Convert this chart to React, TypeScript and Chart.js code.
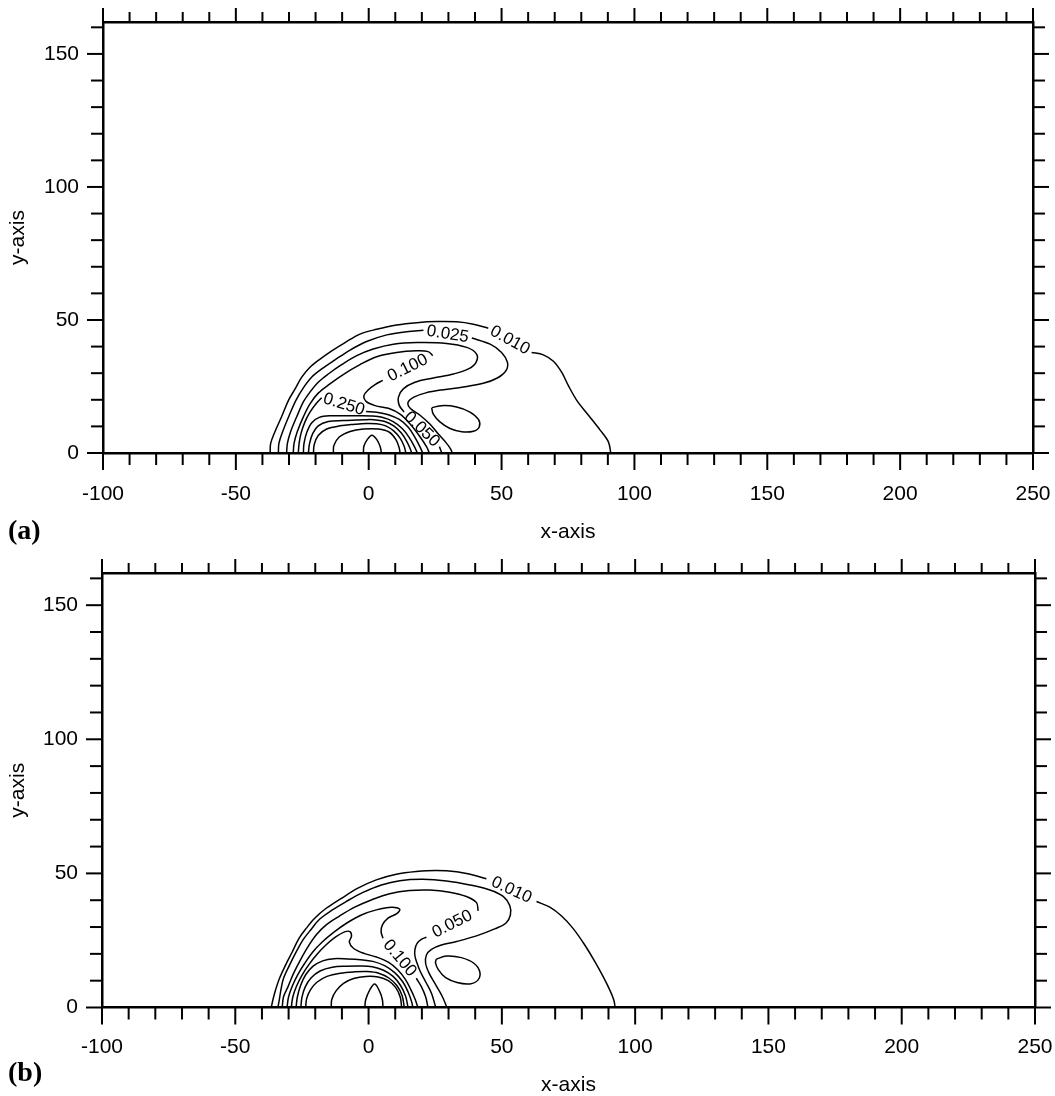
import React, { useEffect, useRef } from 'react';
import { Chart, registerables } from 'chart.js';

Chart.register(...registerables);

type P = [number, number] | null;

// Axis ranges and labelled ticks
const X_MIN = -100;
const X_MAX = 250;
const Y_MIN = 0;
const Y_MAX = 162;
const X_TICK_LABELS = [-100, -50, 0, 50, 100, 150, 200, 250];
const Y_TICK_LABELS = [0, 50, 100, 150];
const MINOR_STEP = 10;
const MAJOR_STEP = 50;

// Contour levels, outermost first (labelled where the line has a gap)
const LEVELS = [0.01, 0.025, 0.05, 0.1, 0.25, 0.5, 1.0, 2.5, 5.0, 10.0];
const ISLAND_LEVEL = 0.025;

// ---------- panel (a) ----------
const A_C1: P[] = [
  [-37.1, 0], [-36.9, 3.6], [-35.3, 8.0], [-32.8, 13.6], [-30.2, 19.8], [-27.7, 24.1], [-25.2, 28.5],
  [-22.1, 32.2], [-18.3, 35.3], [-13.9, 38.4], [-8.9, 41.5], [-3.3, 44.7], [3.0, 46.5], [10.5, 48.1],
  [18.1, 49.0], [25.6, 49.4], [33.1, 49.3], [39.4, 48.4], [45.0, 46.9],
  null,
  [61.3, 37.8], [65.7, 36.9], [69.5, 34.5], [72.6, 30.4], [75.1, 25.4], [78.3, 19.8], [82.7, 14.2],
  [87.1, 8.6], [90.2, 4.2], [91.1, 0],
];
const A_C2: P[] = [
  [-34.0, 0], [-33.8, 3.6], [-32.4, 8.0], [-29.9, 14.2], [-27.4, 19.8], [-24.6, 24.5], [-21.5, 28.5],
  [-17.7, 31.6], [-12.7, 35.0], [-7.0, 38.7], [-0.8, 41.9], [6.8, 44.4], [14.3, 45.6], [20.6, 46.1],
  null,
  [38.8, 43.2], [45.7, 40.9], [50.0, 37.8], [52.2, 34.1], [51.7, 31.0], [48.4, 28.2], [43.1, 26.2],
  [35.6, 24.8], [28.1, 23.8], [21.5, 22.6], [17.0, 21.0], [14.8, 19.0], [15.6, 16.8], [19.3, 14.2],
  [23.1, 10.8], [26.2, 7.1], [29.1, 3.9], [30.9, 1.4], [31.4, 0],
];
const A_C3: P[] = [
  [-30.9, 0], [-30.6, 3.6], [-29.4, 8.0], [-27.1, 13.6], [-24.6, 19.2], [-22.1, 22.9], [-19.0, 26.6],
  [-15.2, 29.7], [-10.2, 33.2], [-4.5, 36.6], [1.7, 39.1], [9.3, 40.9], [18.1, 41.5], [29.3, 41.2],
  [36.9, 39.7], [40.6, 37.2], [40.4, 34.1], [37.5, 31.6], [31.9, 29.7], [24.3, 28.2], [17.4, 26.6],
  [13.0, 24.1], [11.2, 21.0], [11.5, 17.9], [13.3, 15.4],
  null,
  [26.6, 2.4], [27.5, 0],
];
const A_C4: P[] = [
  [-28.4, 0], [-28.1, 3.6], [-26.9, 8.0], [-24.6, 13.6], [-22.1, 18.5], [-19.0, 22.5], [-14.6, 26.0],
  [-9.6, 29.5], [-3.3, 33.2], [3.0, 36.2], [10.5, 37.8], [18.1, 38.4], [22.4, 38.1], [24.1, 36.6],
  null,
  [5.3, 27.3], [2.4, 25.7], [-0.1, 23.8], [-1.8, 21.6], [-1.0, 19.4], [2.4, 17.8], [7.4, 16.8],
  [11.8, 14.6], [15.5, 11.0], [19.1, 6.4], [21.8, 2.3], [22.8, 0],
];
const A_C5: P[] = [
  [-26.5, 0], [-26.2, 3.6], [-25.5, 7.3], [-24.0, 11.7], [-22.1, 15.4], [-19.6, 18.8], [-17.7, 20.8],
  null,
  [-1.0, 15.6], [3.0, 15.3], [7.4, 14.4], [11.5, 12.6], [14.9, 9.7], [17.4, 5.9], [19.3, 2.3], [20.3, 0],
];
const A_C6: P[] = [
  [-24.6, 0], [-24.35, 3.6], [-23.35, 7.6], [-21.5, 11.3], [-18.6, 13.4], [-13.9, 14.0], [-8.3, 14.0],
  [-3.3, 14.0], [1.0, 13.9], [5.0, 13.4], [9.2, 11.8], [12.6, 9.2], [15.2, 5.9], [17.2, 2.4], [18.3, 0],
];
const A_C7: P[] = [
  [-22.7, 0], [-22.3, 3.4], [-21.1, 7.3], [-19.0, 10.2], [-15.2, 11.8], [-9.6, 12.2], [-4.5, 12.4],
  [-2.0, 12.5], [2.0, 12.5], [5.8, 11.9], [9.4, 10.2], [12.2, 7.6], [14.3, 4.4], [15.6, 1.6], [16.2, 0],
];
const A_C8: P[] = [
  [-20.8, 0], [-20.5, 3.2], [-19.0, 6.6], [-15.8, 9.0], [-10.8, 10.2], [-5.2, 10.8], [-1.0, 11.1],
  [3.0, 11.0], [6.4, 10.2], [9.4, 8.3], [11.8, 5.6], [13.3, 2.6], [14.0, 0],
];
const A_C9: P[] = [
  [-13.3, 0], [-13.1, 2.8], [-11.1, 6.0], [-7.0, 8.1], [-2.0, 9.0], [3.6, 9.0], [7.8, 7.8],
  [10.3, 4.9], [11.5, 1.8], [11.8, 0],
];
const A_C10: P[] = [
  [-2.0, 0], [-1.8, 2.6], [-0.5, 5.1], [1.2, 6.7], [3.0, 5.1], [4.3, 2.4], [4.8, 0],
];
const A_ISLAND: P[] = [
  [23.7, 17.0], [27.5, 17.8], [33.1, 17.3], [38.1, 15.4], [41.3, 12.6], [41.6, 9.8], [39.4, 8.2],
  [35.0, 8.0], [30.6, 9.2], [26.8, 11.7], [24.3, 14.6], [23.7, 17.0],
];

// ---------- panel (b) ----------
const B_C1: P[] = [
  [-36.5, 0], [-35.9, 2.8], [-34.9, 6.5], [-33.4, 10.9], [-31.1, 15.9], [-28.6, 20.8], [-26.1, 25.8],
  [-23.4, 29.5], [-20.2, 33.3], [-15.9, 37.0], [-10.2, 40.7], [-4.0, 44.5], [2.9, 47.6], [10.4, 49.7],
  [17.9, 50.7], [25.4, 51.1], [33.0, 50.6], [39.2, 49.4], [44.2, 48.0],
  null,
  [63.0, 39.5], [68.0, 37.4], [72.4, 34.1], [76.7, 29.5], [81.1, 23.3], [84.9, 17.1], [88.0, 11.5],
  [90.5, 6.5], [92.0, 2.8], [92.5, 0],
];
const B_C2: P[] = [
  [-34.0, 0], [-33.4, 3.4], [-32.8, 7.0], [-31.9, 10.9], [-29.6, 15.9], [-27.1, 20.8], [-24.6, 25.2],
  [-21.5, 29.2], [-18.4, 32.9], [-14.0, 36.1], [-8.4, 39.5], [-2.1, 42.9], [4.8, 45.7], [11.7, 47.3],
  [20.4, 47.8], [29.2, 47.2], [38.0, 45.7], [45.5, 43.8], [50.5, 41.4], [53.0, 37.9], [53.2, 34.5],
  [51.5, 31.4], [47.3, 29.3], [40.5, 26.7], [33.0, 24.6], [27.3, 23.3], [23.6, 21.7], [21.7, 19.6],
  [21.4, 16.5], [22.7, 12.8], [25.2, 8.4], [27.7, 4.0], [29.4, 0],
];
const B_C3: P[] = [
  [-32.4, 0], [-31.9, 4.0], [-30.2, 7.8], [-28.1, 12.8], [-25.6, 17.7], [-22.7, 22.7], [-19.6, 27.1],
  [-15.9, 30.8], [-10.9, 34.1], [-5.2, 37.4], [1.0, 40.1], [7.9, 42.4], [15.4, 43.6], [22.9, 43.8],
  [30.4, 43.0], [36.7, 41.4], [40.5, 39.1], [41.1, 36.0],
  null,
  [21.7, 26.2], [19.8, 25.4], [18.2, 23.9], [17.4, 21.7], [17.4, 19.2], [18.2, 16.5], [19.4, 13.4],
  [21.4, 9.6], [23.6, 5.3], [25.2, 0],
];
const B_C4: P[] = [
  [-30.6, 0], [-30.0, 4.0], [-28.6, 8.0], [-26.6, 12.2], [-24.0, 16.4], [-21.0, 20.6], [-17.4, 24.4],
  [-13.0, 28.1], [-8.0, 31.6], [-2.7, 34.5], [2.9, 36.4], [8.6, 37.4], [11.7, 36.6], [10.7, 35.1],
  [7.3, 33.3], [5.2, 30.8], [4.7, 28.3], [5.4, 25.8],
  null,
  [17.9, 10.9], [19.8, 7.8], [21.4, 4.0], [22.3, 0],
];
const B_C5: P[] = [
  [-29.0, 0], [-28.4, 4.0], [-27.0, 8.0], [-25.0, 12.0], [-22.4, 16.0], [-19.4, 19.8], [-15.9, 23.4],
  [-12.2, 26.4], [-9.0, 28.2], [-7.0, 28.3], [-6.4, 26.6], [-7.2, 24.4], [-5.6, 22.0], [-1.5, 20.1],
  [3.0, 18.8], [7.4, 16.9], [11.0, 14.0], [13.8, 10.5], [15.9, 6.6], [17.5, 3.0], [18.5, 0],
];
const B_C6: P[] = [
  [-27.2, 0], [-26.7, 4.0], [-25.5, 8.2], [-23.6, 12.2], [-20.8, 15.4], [-17.2, 17.4], [-13.0, 18.2],
  [-8.0, 18.1], [-3.0, 17.8], [1.6, 17.2], [6.0, 15.6], [9.8, 13.0], [12.8, 9.6], [14.9, 5.6],
  [16.2, 2.0], [16.6, 0],
];
const B_C7: P[] = [
  [-25.4, 0], [-25.0, 3.8], [-23.8, 7.6], [-21.6, 11.0], [-18.2, 13.6], [-13.6, 15.0], [-8.4, 15.4],
  [-3.2, 15.5], [1.4, 15.2], [5.6, 13.9], [9.2, 11.6], [12.0, 8.2], [13.9, 4.2], [14.8, 0],
];
const B_C8: P[] = [
  [-23.6, 0], [-23.2, 3.4], [-21.8, 6.6], [-19.4, 9.4], [-15.6, 11.6], [-10.6, 12.8], [-5.2, 13.3],
  [-0.6, 13.4], [3.8, 12.8], [7.6, 11.0], [10.6, 8.2], [12.6, 4.4], [13.4, 0],
];
const B_C9: P[] = [
  [-14.0, 0], [-13.8, 3.0], [-12.2, 6.2], [-9.4, 9.0], [-5.6, 10.8], [-1.0, 11.6], [3.6, 11.4],
  [7.4, 10.0], [10.2, 7.4], [11.9, 3.8], [12.4, 0],
];
const B_C10: P[] = [
  [-1.4, 0], [-1.1, 2.8], [0.4, 6.5], [2.3, 8.8], [4.2, 5.9], [5.2, 2.8], [5.4, 0],
];
const B_ISLAND: P[] = [
  [25.4, 18.0], [29.2, 19.2], [34.8, 18.6], [39.5, 16.5], [41.7, 13.4], [41.1, 10.3], [38.0, 8.8],
  [33.2, 9.3], [28.9, 11.1], [26.1, 14.2], [25.1, 16.7], [25.4, 18.0],
];

const PANEL_A_LINES = [A_C1, A_C2, A_C3, A_C4, A_C5, A_C6, A_C7, A_C8, A_C9, A_C10];
const PANEL_B_LINES = [B_C1, B_C2, B_C3, B_C4, B_C5, B_C6, B_C7, B_C8, B_C9, B_C10];

const FONT = '"Liberation Sans", Arial, Helvetica, sans-serif';
const INK = '#000';

function buildDatasets(lines: P[][], island: P[]) {
  const all = [...lines.map((l, i) => ({ pts: l, level: LEVELS[i] })), { pts: island, level: ISLAND_LEVEL }];
  return all.map(({ pts, level }) => ({
    label: level.toFixed(3),
    data: pts.map((p) => (p ? { x: p[0], y: p[1] } : { x: null, y: null })),
    showLine: true,
    borderColor: INK,
    borderWidth: 1.5,
    pointRadius: 0,
    pointHoverRadius: 0,
    tension: 0.35,
    spanGaps: false,
    fill: false,
  }));
}

// Tick marks drawn outward from each side of the frame: [major, minor] lengths
const TICK_LEN: Record<string, [number, number]> = {
  bottom: [17, 12],
  top: [14, 10],
  left: [16, 12],
  right: [16, 12],
};

const frameTicks = {
  id: 'frameTicks',
  afterDraw(chart: any) {
    const ctx = chart.ctx;
    ctx.save();
    ctx.strokeStyle = INK;
    ctx.lineWidth = 2;
    for (const id of ['x', 'x2', 'y', 'y2']) {
      const s = chart.scales[id];
      if (!s) continue;
      const [maj, min] = TICK_LEN[s.position];
      for (const t of s.ticks) {
        const v = t.value;
        if (Math.abs(v / MINOR_STEP - Math.round(v / MINOR_STEP)) > 1e-6) continue;
        const major = Math.abs(v / MAJOR_STEP - Math.round(v / MAJOR_STEP)) < 1e-6;
        const L = major ? maj : min;
        const p = s.getPixelForValue(v);
        ctx.beginPath();
        if (s.position === 'bottom') {
          ctx.moveTo(p, s.top);
          ctx.lineTo(p, s.top + L);
        } else if (s.position === 'top') {
          ctx.moveTo(p, s.bottom);
          ctx.lineTo(p, s.bottom - L);
        } else if (s.position === 'left') {
          ctx.moveTo(s.right, p);
          ctx.lineTo(s.right - L, p);
        } else {
          ctx.moveTo(s.left, p);
          ctx.lineTo(s.left + L, p);
        }
        ctx.stroke();
      }
    }
    ctx.restore();
  },
};

// Level values written into the gap left in a contour line
const contourLabels = {
  id: 'contourLabels',
  afterDatasetsDraw(chart: any) {
    const { ctx } = chart;
    const xs = chart.scales.x;
    const ys = chart.scales.y;
    ctx.save();
    ctx.font = `17px ${FONT}`;
    ctx.fillStyle = INK;
    ctx.textAlign = 'center';
    ctx.textBaseline = 'middle';
    chart.data.datasets.forEach((ds: any) => {
      const pts = ds.data;
      const k = pts.findIndex((p: any) => p.x === null);
      if (k < 1) return;
      const a = pts[k - 1];
      const b = pts[k + 1];
      const x0 = xs.getPixelForValue(a.x);
      const y0 = ys.getPixelForValue(a.y);
      const x1 = xs.getPixelForValue(b.x);
      const y1 = ys.getPixelForValue(b.y);
      let ang = Math.atan2(y1 - y0, x1 - x0);
      if (ang > Math.PI / 2) ang -= Math.PI;
      if (ang < -Math.PI / 2) ang += Math.PI;
      ctx.save();
      ctx.translate((x0 + x1) / 2, (y0 + y1) / 2);
      ctx.rotate(ang);
      ctx.fillText(ds.label, 0, 0);
      ctx.restore();
    });
    ctx.restore();
  },
};

const panelTag = {
  id: 'panelTag',
  afterDraw(chart: any, _args: any, opts: any) {
    const ctx = chart.ctx;
    ctx.save();
    ctx.font = 'bold 28px "Liberation Serif", "Times New Roman", serif';
    ctx.fillStyle = INK;
    ctx.textAlign = 'left';
    ctx.textBaseline = 'alphabetic';
    ctx.fillText(opts.text, opts.x, opts.y);
    ctx.restore();
  },
};

type Geom = {
  top: number;
  height: number;
  left: number;
  right: number;
  frameTop: number;
  bottom: number;
  xPad: number;
  titlePad: number;
  tagY: number;
};

const isOneOf = (v: number, list: number[]) => list.some((t) => Math.abs(t - v) < 1e-6);

// fixed box sizes so the plot frame lands where intended
function fixBox(s: any, size: number) {
  if (s.isHorizontal()) s.height = size;
  else s.width = size;
  s.paddingLeft = 0;
  s.paddingRight = 0;
  s.paddingTop = 0;
  s.paddingBottom = 0;
}

function Panel({ lines, island, tag, g }: { lines: P[][]; island: P[]; tag: string; g: Geom }) {
  const ref = useRef<HTMLCanvasElement>(null);

  useEffect(() => {
    if (!ref.current) return;
    const border = { display: true, color: INK, width: 2.5 };
    const chart = new Chart(ref.current, {
      type: 'scatter',
      data: { datasets: buildDatasets(lines, island) as any },
      options: {
        responsive: false,
        animation: false,
        devicePixelRatio: 1,
        events: [],
        layout: { padding: 0 },
        plugins: {
          legend: { display: false },
          tooltip: { enabled: false },
          panelTag: { text: tag, x: 8, y: g.tagY },
        } as any,
        scales: {
          x: {
            type: 'linear',
            position: 'bottom',
            min: X_MIN,
            max: X_MAX,
            afterFit: (s: any) => fixBox(s, g.bottom),
            ticks: {
              stepSize: MINOR_STEP,
              autoSkip: false,
              maxRotation: 0,
              includeBounds: false,
              padding: g.xPad,
              color: INK,
              font: { family: FONT, size: 21 },
              callback: (v: any) => (isOneOf(Number(v), X_TICK_LABELS) ? String(v) : ''),
            },
            grid: { display: false },
            border,
            title: {
              display: true,
              text: 'x-axis',
              color: INK,
              font: { family: FONT, size: 21, lineHeight: 1.2 },
              padding: { top: 0, bottom: g.titlePad },
            },
          },
          x2: {
            type: 'linear',
            position: 'top',
            min: X_MIN,
            max: X_MAX,
            afterFit: (s: any) => fixBox(s, g.frameTop),
            ticks: { display: false, stepSize: MINOR_STEP, includeBounds: false },
            grid: { display: false },
            border,
          },
          y: {
            type: 'linear',
            position: 'left',
            min: Y_MIN,
            max: Y_MAX,
            afterFit: (s: any) => fixBox(s, g.left),
            ticks: {
              stepSize: MINOR_STEP,
              autoSkip: false,
              includeBounds: false,
              padding: 16,
              color: INK,
              font: { family: FONT, size: 21 },
              callback: (v: any) => (isOneOf(Number(v), Y_TICK_LABELS) ? String(v) : ''),
            },
            grid: { display: false },
            border,
            title: {
              display: true,
              text: 'y-axis',
              color: INK,
              font: { family: FONT, size: 21, lineHeight: 1.2 },
              padding: { top: 6, bottom: 0 },
            },
          },
          y2: {
            type: 'linear',
            position: 'right',
            min: Y_MIN,
            max: Y_MAX,
            afterFit: (s: any) => fixBox(s, g.right),
            ticks: { display: false, stepSize: MINOR_STEP, includeBounds: false },
            grid: { display: false },
            border,
          },
        } as any,
      },
      plugins: [frameTicks, contourLabels, panelTag],
    } as any);
    return () => chart.destroy();
  }, []);

  return (
    <canvas
      ref={ref}
      width={1055}
      height={g.height}
      style={{ position: 'absolute', left: 0, top: g.top, display: 'block', width: 1055, height: g.height }}
    />
  );
}

const GEOM_A: Geom = { top: 0, height: 548, left: 103, right: 22, frameTop: 22, bottom: 95, xPad: 21, titlePad: 3, tagY: 539 };
const GEOM_B: Geom = { top: 548, height: 548, left: 102, right: 20, frameTop: 25, bottom: 88.5, xPad: 19, titlePad: -2, tagY: 533 };

export default function App() {
  return (
    <div style={{ position: 'absolute', left: 0, top: 0, width: 1055, height: 1096, background: '#fff', overflow: 'hidden' }}>
      <Panel lines={PANEL_A_LINES} island={A_ISLAND} tag="(a)" g={GEOM_A} />
      <Panel lines={PANEL_B_LINES} island={B_ISLAND} tag="(b)" g={GEOM_B} />
    </div>
  );
}
